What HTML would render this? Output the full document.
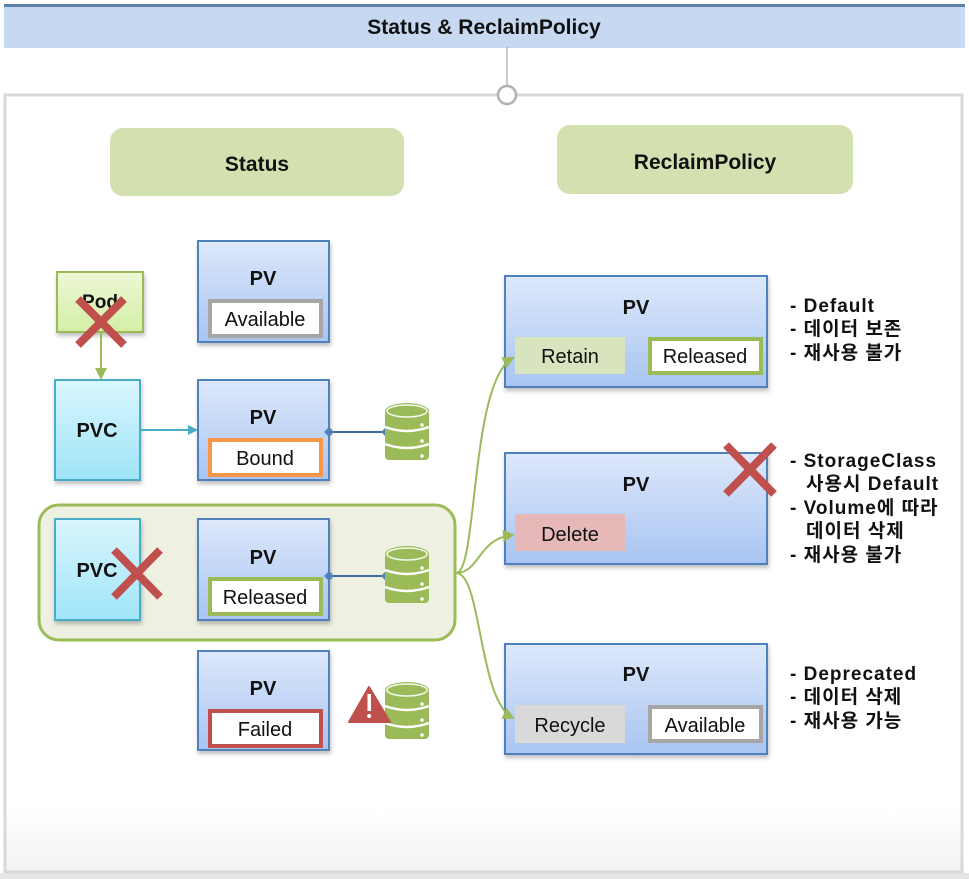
<!DOCTYPE html>
<html><head><meta charset="utf-8">
<style>
html,body{margin:0;padding:0;background:#fff;}
svg{display:block;}
text{font-family:"Liberation Sans","Noto Sans CJK KR",sans-serif;}
</style></head>
<body>
<svg width="969" height="879" viewBox="0 0 969 879" xmlns="http://www.w3.org/2000/svg">
<defs>
<linearGradient id="pv" x1="0" y1="0" x2="0" y2="1"><stop offset="0" stop-color="#dde8fb"/><stop offset="1" stop-color="#a8c4f1"/></linearGradient>
<linearGradient id="pvc" x1="0" y1="0" x2="0" y2="1"><stop offset="0" stop-color="#d9f6fd"/><stop offset="1" stop-color="#9fe5f8"/></linearGradient>
<linearGradient id="pod" x1="0" y1="0" x2="0" y2="1"><stop offset="0" stop-color="#eef8d6"/><stop offset="1" stop-color="#d4eea5"/></linearGradient>
<linearGradient id="bg" x1="0" y1="0" x2="0" y2="1"><stop offset="0.92" stop-color="#ffffff"/><stop offset="1" stop-color="#f2f2f4"/></linearGradient>
<filter id="sh" x="-10%" y="-10%" width="130%" height="130%"><feDropShadow dx="1" dy="3" stdDeviation="2" flood-color="#000" flood-opacity="0.25"/></filter>
<g id="db">
<rect x="0" y="7" width="44" height="50" rx="4" fill="#9bbb59"/>
<ellipse cx="22" cy="8" rx="22" ry="8" fill="#9bbb59"/>
<ellipse cx="22" cy="8" rx="20" ry="6" fill="none" stroke="#fff" stroke-width="1.5" opacity="0.9"/>
<path d="M0 24 Q22 32 44 24" fill="none" stroke="#fff" stroke-width="2.5"/>
<path d="M0 41 Q22 49 44 41" fill="none" stroke="#fff" stroke-width="2.5"/>
<circle cx="37" cy="22" r="1.8" fill="#fff"/><circle cx="37" cy="38" r="1.8" fill="#fff"/><circle cx="37" cy="53" r="1.8" fill="#fff"/>
</g>
<marker id="ab" markerWidth="10" markerHeight="10" refX="8" refY="5" orient="auto" markerUnits="userSpaceOnUse"><path d="M0 0 L10 5 L0 10 z" fill="#4bacc6"/></marker>
<marker id="ag" markerWidth="12" markerHeight="12" refX="10" refY="6" orient="auto" markerUnits="userSpaceOnUse"><path d="M0 0 L12 6 L0 12 z" fill="#9bbb59"/></marker>
</defs>
<rect width="969" height="879" fill="#fff"/>
<rect x="0" y="873" width="969" height="6" fill="#e6e6e6"/>
<rect x="4" y="4" width="961" height="44" fill="#c6d9f1"/>
<rect x="4" y="4" width="961" height="3" fill="#5b80aa"/>
<text x="484" y="34" text-anchor="middle" font-size="21" font-weight="bold" fill="#111">Status &amp; ReclaimPolicy</text>
<rect x="5" y="95" width="957" height="777" fill="url(#bg)" stroke="#d8d8d8" stroke-width="3"/>
<line x1="507" y1="47" x2="507" y2="87" stroke="#999" stroke-width="1"/>
<circle cx="507" cy="95" r="9" fill="#fff" stroke="#b0b0b0" stroke-width="2.5"/>
<rect x="110" y="128" width="294" height="68" rx="13" fill="#d3e0b0"/>
<text x="257" y="171" text-anchor="middle" font-size="21" font-weight="bold" fill="#111">Status</text>
<rect x="557" y="125" width="296" height="69" rx="13" fill="#d3e0b0"/>
<text x="705" y="169" text-anchor="middle" font-size="21" font-weight="bold" fill="#111">ReclaimPolicy</text>

<rect x="39" y="505" width="416" height="135" rx="20" fill="#eef0e2" stroke="#9bbb59" stroke-width="3"/>

<rect x="57" y="272" width="86" height="60" fill="url(#pod)" stroke="#9bbb59" stroke-width="2" filter="url(#sh)"/>
<text x="100" y="308" text-anchor="middle" font-size="19" font-weight="bold" fill="#111">Pod</text>
<line x1="101" y1="332" x2="101" y2="378" stroke="#9bbb59" stroke-width="2" marker-end="url(#ag)"/>
<g stroke="#c0504d" stroke-width="8"><line x1="78" y1="299" x2="124" y2="345"/><line x1="124" y1="299" x2="78" y2="345"/></g>

<rect x="55" y="380" width="85" height="100" fill="url(#pvc)" stroke="#4bacc6" stroke-width="2" filter="url(#sh)"/>
<text x="97" y="437" text-anchor="middle" font-size="20" font-weight="bold" fill="#111">PVC</text>
<line x1="140" y1="430" x2="196" y2="430" stroke="#4bacc6" stroke-width="2" marker-end="url(#ab)"/>

<rect x="198" y="241" width="131" height="101" fill="url(#pv)" stroke="#4f81bd" stroke-width="2" filter="url(#sh)"/>
<text x="263" y="285" text-anchor="middle" font-size="20" font-weight="bold" fill="#111">PV</text>
<rect x="210" y="301" width="111" height="35" fill="#fff" stroke="#a6a6a6" stroke-width="4"/>
<text x="265" y="326" text-anchor="middle" font-size="20" fill="#111">Available</text>

<rect x="198" y="380" width="131" height="100" fill="url(#pv)" stroke="#4f81bd" stroke-width="2" filter="url(#sh)"/>
<text x="263" y="424" text-anchor="middle" font-size="20" font-weight="bold" fill="#111">PV</text>
<rect x="210" y="440" width="111" height="35" fill="#fff" stroke="#f79646" stroke-width="4"/>
<text x="265" y="465" text-anchor="middle" font-size="20" fill="#111">Bound</text>
<line x1="329" y1="432" x2="386" y2="432" stroke="#3e6a96" stroke-width="2"/>
<path d="M329 427 L334 432 L329 437 L324 432z" fill="#4f81bd"/>
<path d="M386 427 L391 432 L386 437 L381 432z" fill="#4f81bd"/>
<use href="#db" x="385" y="403"/>

<rect x="55" y="519" width="85" height="101" fill="url(#pvc)" stroke="#4bacc6" stroke-width="2" filter="url(#sh)"/>
<text x="97" y="577" text-anchor="middle" font-size="20" font-weight="bold" fill="#111">PVC</text>
<g stroke="#c0504d" stroke-width="8"><line x1="114" y1="550" x2="160" y2="597"/><line x1="160" y1="550" x2="114" y2="597"/></g>

<rect x="198" y="519" width="131" height="101" fill="url(#pv)" stroke="#4f81bd" stroke-width="2" filter="url(#sh)"/>
<text x="263" y="564" text-anchor="middle" font-size="20" font-weight="bold" fill="#111">PV</text>
<rect x="210" y="579" width="111" height="35" fill="#fff" stroke="#9bbb59" stroke-width="4"/>
<text x="265" y="604" text-anchor="middle" font-size="20" fill="#111">Released</text>
<line x1="329" y1="576" x2="386" y2="576" stroke="#3e6a96" stroke-width="2"/>
<path d="M329 571 L334 576 L329 581 L324 576z" fill="#4f81bd"/>
<path d="M386 571 L391 576 L386 581 L381 576z" fill="#4f81bd"/>
<use href="#db" x="385" y="546"/>

<rect x="198" y="651" width="131" height="99" fill="url(#pv)" stroke="#4f81bd" stroke-width="2" filter="url(#sh)"/>
<text x="263" y="695" text-anchor="middle" font-size="20" font-weight="bold" fill="#111">PV</text>
<rect x="210" y="711" width="111" height="35" fill="#fff" stroke="#c0504d" stroke-width="4"/>
<text x="265" y="736" text-anchor="middle" font-size="20" fill="#111">Failed</text>
<use href="#db" x="385" y="682"/>
<path d="M369 687 L390 722 L349 722 z" fill="#c0504d" stroke="#c0504d" stroke-width="2" stroke-linejoin="round"/>
<rect x="367.5" y="694" width="3.5" height="17" fill="#fff"/><circle cx="369.2" cy="716" r="2" fill="#fff"/>

<rect x="505" y="276" width="262" height="111" fill="url(#pv)" stroke="#4f81bd" stroke-width="2" filter="url(#sh)"/>
<text x="636" y="314" text-anchor="middle" font-size="20" font-weight="bold" fill="#111">PV</text>
<rect x="515" y="337" width="110" height="37" fill="#d7e4bd"/>
<text x="570" y="363" text-anchor="middle" font-size="20" fill="#111">Retain</text>
<rect x="650" y="339" width="111" height="34" fill="#fff" stroke="#9bbb59" stroke-width="4"/>
<text x="705" y="363" text-anchor="middle" font-size="20" fill="#111">Released</text>

<rect x="505" y="453" width="262" height="111" fill="url(#pv)" stroke="#4f81bd" stroke-width="2" filter="url(#sh)"/>
<text x="636" y="491" text-anchor="middle" font-size="20" font-weight="bold" fill="#111">PV</text>
<rect x="515" y="514" width="110" height="37" fill="#e6b9b8"/>
<text x="570" y="541" text-anchor="middle" font-size="20" fill="#111">Delete</text>
<g stroke="#c0504d" stroke-width="8"><line x1="726" y1="445" x2="774" y2="494"/><line x1="774" y1="445" x2="726" y2="494"/></g>

<rect x="505" y="644" width="262" height="110" fill="url(#pv)" stroke="#4f81bd" stroke-width="2" filter="url(#sh)"/>
<text x="636" y="681" text-anchor="middle" font-size="20" font-weight="bold" fill="#111">PV</text>
<rect x="515" y="705" width="110" height="38" fill="#d9d9d9"/>
<text x="570" y="732" text-anchor="middle" font-size="20" fill="#111">Recycle</text>
<rect x="650" y="707" width="111" height="34" fill="#fff" stroke="#a6a6a6" stroke-width="4"/>
<text x="705" y="732" text-anchor="middle" font-size="20" fill="#111">Available</text>

<g fill="none" stroke="#9bbb59" stroke-width="2">
<path d="M456 573 C478 573 470 380 513 358" marker-end="url(#ag)"/>
<path d="M456 573 C480 573 478 538 513 535" marker-end="url(#ag)"/>
<path d="M456 573 C482 573 478 700 513 718" marker-end="url(#ag)"/>
</g>

<g font-size="19" font-weight="bold" fill="#111" letter-spacing="1">
<text x="790" y="312">- Default</text>
<text x="790" y="335">- 데이터 보존</text>
<text x="790" y="359">- 재사용 불가</text>
<text x="790" y="467">- StorageClass</text>
<text x="806" y="490">사용시 Default</text>
<text x="790" y="514">- Volume에 따라</text>
<text x="806" y="537">데이터 삭제</text>
<text x="790" y="561">- 재사용 불가</text>
<text x="790" y="680">- Deprecated</text>
<text x="790" y="703">- 데이터 삭제</text>
<text x="790" y="727">- 재사용 가능</text>
</g>
</svg>
</body></html>
